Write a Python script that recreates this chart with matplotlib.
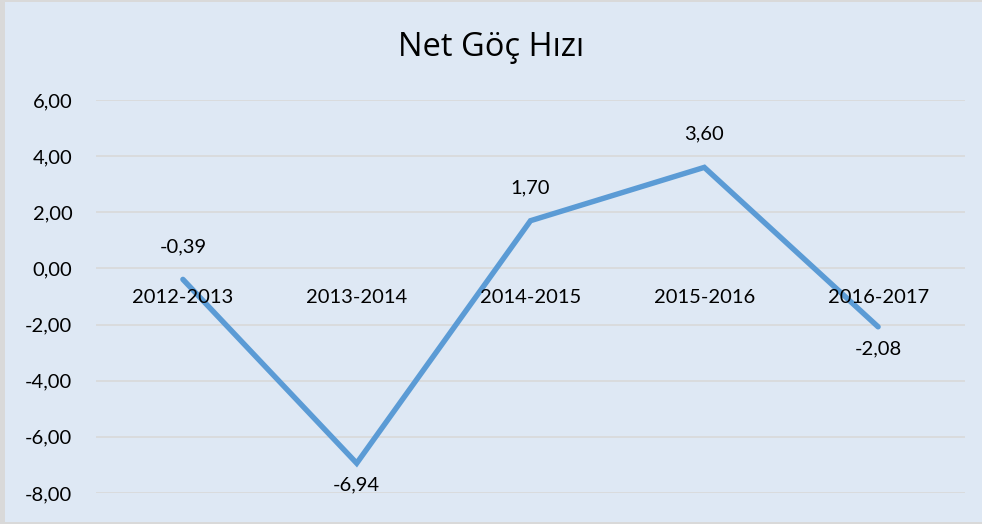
import matplotlib.pyplot as plt
from matplotlib.patches import Rectangle

# veriler
donemler = ["2012-2013", "2013-2014", "2014-2015", "2015-2016", "2016-2017"]
net_goc = [-0.39, -6.94, 1.70, 3.60, -2.08]
etiket_yonu = ["ust", "alt", "ust", "ust", "alt"]
y_ticks = [-8, -6, -4, -2, 0, 2, 4, 6]

arka = "#DEE8F4"
cizgi = "#5B9BD5"
izgara = "#D9D9D9"

W, H = 982, 524
fig = plt.figure(figsize=(W / 100, H / 100), dpi=100)
fig.patch.set_facecolor("#D9D9D9")
fig.patches.append(Rectangle((5 / W, 2 / H), 1 - 5 / W, 1 - 4 / H, transform=fig.transFigure,
                             facecolor=arka, edgecolor="none", zorder=-5))

ax = fig.add_axes([96 / W, 1 - 493 / H, (965 - 96) / W, (493 - 100) / H])
ax.set_facecolor(arka)
ax.set_zorder(2)

x = list(range(len(donemler)))
ax.plot(x, net_goc, color=cizgi, linewidth=3.9, solid_capstyle="round", solid_joinstyle="miter", zorder=3)

ax.set_xlim(-0.5, len(donemler) - 0.5)
ax.set_ylim(-8, 6)
ax.set_yticks(y_ticks)
ax.set_yticklabels([f"{v:.2f}".replace(".", ",") for v in y_ticks], fontsize=14.5, family="Lato")
ax.grid(axis="y", color=izgara, linewidth=1.2, zorder=0)
ax.tick_params(axis="y", length=0, pad=17)
ax.set_xticks([])
for s in ax.spines.values():
    s.set_visible(False)

# kategori etiketleri sifir cizgisinde
for i, d in enumerate(donemler):
    ax.annotate(d, (i, 0), xytext=(0, -29), textcoords="offset pixels",
                ha="center", va="center", fontsize=14.5, family="Lato", zorder=4)

# veri etiketleri
for i, (v, yon) in enumerate(zip(net_goc, etiket_yonu)):
    dy = 33 if yon == "ust" else -22
    ax.annotate(f"{v:.2f}".replace(".", ","), (i, v), xytext=(0, dy), textcoords="offset pixels",
                ha="center", va="center", fontsize=14.5, family="Lato", zorder=4)

fig.text(0.5, 1 - 47 / H, "Net Göç Hızı", ha="center", va="center", fontsize=23.5, family="Open Sans")

fig.savefig("out.png", dpi=100, facecolor=fig.get_facecolor())
